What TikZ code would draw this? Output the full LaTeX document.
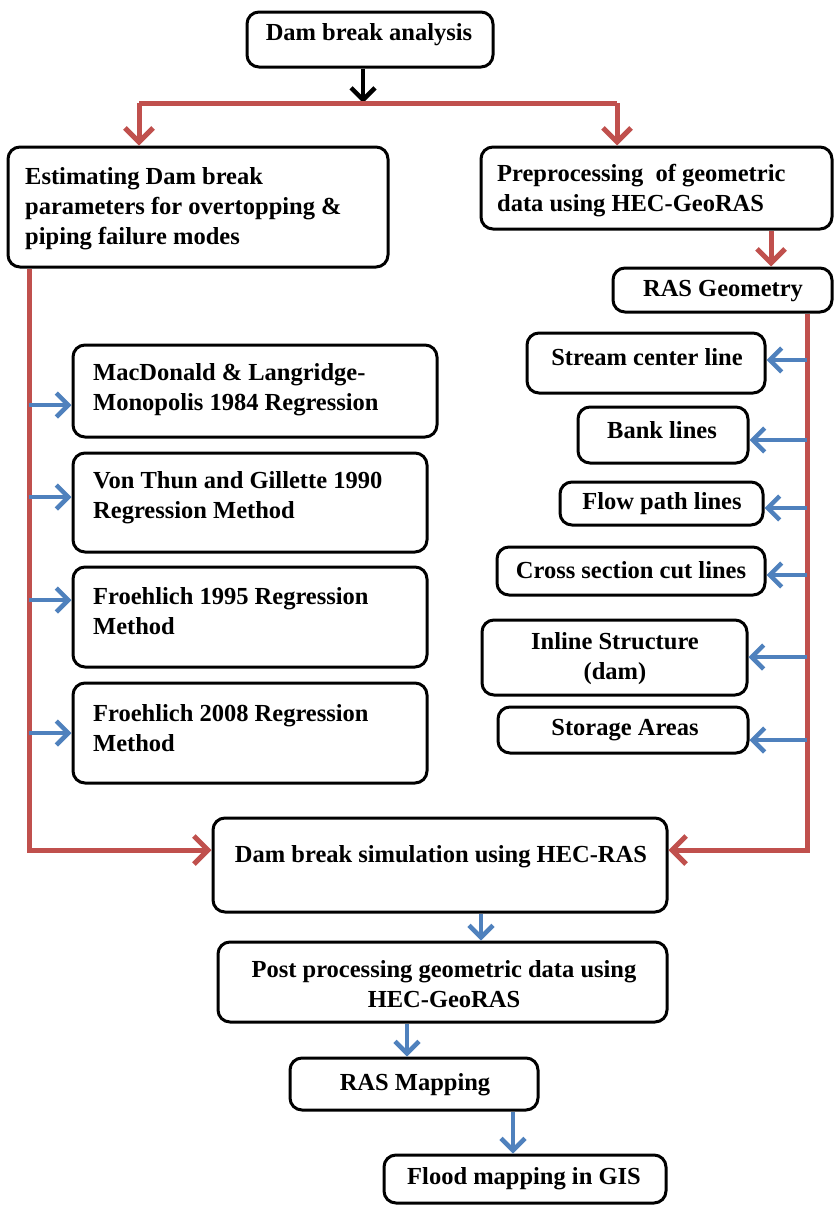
\documentclass[tikz,border=0pt]{standalone}
\usepackage{fontspec}
\setmainfont{Liberation Serif}
\usetikzlibrary{arrows.meta}
\definecolor{rd}{RGB}{192,80,77}
\definecolor{bl}{RGB}{79,129,189}
\begin{document}
\begin{tikzpicture}[x=1pt,y=-1pt,
  box/.style={draw=black, line width=3pt, rounded corners=12pt, inner sep=0pt, fill=white},
  txt/.style={font=\bfseries\fontsize{24.5}{30}\selectfont, inner sep=0pt},
  rline/.style={draw=rd, line width=5pt},
  rarrow/.style={draw=rd, line width=5pt, -{Straight Barb[length=14pt,width=28pt]}},
  barr/.style={draw=bl, line width=4.5pt, -{Straight Barb[length=12pt,width=24pt]}},
  karr/.style={draw=black, line width=4.5pt, -{Straight Barb[length=12pt,width=24pt]}}]
\useasboundingbox (0,0) rectangle (833,1205);
% boxes
\node[box, minimum width=246pt, minimum height=55pt] (dba) at (370,39.5) {};
\node[box, minimum width=380pt, minimum height=120pt] (est) at (198,207) {};
\node[box, minimum width=351pt, minimum height=82pt] (pre) at (656.5,188) {};
\node[box, minimum width=219pt, minimum height=44pt] (rasg) at (722.5,290) {};
\node[box, minimum width=364pt, minimum height=92pt] (mac) at (255,391) {};
\node[box, minimum width=354pt, minimum height=99pt] (von) at (250,502.5) {};
\node[box, minimum width=354pt, minimum height=100pt] (f95) at (250,617) {};
\node[box, minimum width=354pt, minimum height=100pt] (f08) at (250,733) {};
\node[box, minimum width=238pt, minimum height=60pt] (scl) at (646,363) {};
\node[box, minimum width=170pt, minimum height=56pt] (bank) at (663,435) {};
\node[box, minimum width=203pt, minimum height=43pt] (flow) at (661.5,503.5) {};
\node[box, minimum width=268pt, minimum height=48pt] (cross) at (631,571) {};
\node[box, minimum width=265pt, minimum height=75pt] (inl) at (614.5,657.5) {};
\node[box, minimum width=250pt, minimum height=46pt] (stor) at (623,730) {};
\node[box, minimum width=454pt, minimum height=94pt] (sim) at (440,865) {};
\node[box, minimum width=449pt, minimum height=80pt] (post) at (442.5,982) {};
\node[box, minimum width=248pt, minimum height=52pt] (rasm) at (414,1084) {};
\node[box, minimum width=282pt, minimum height=48pt] (flood) at (525,1179) {};
% texts
\node[txt] (dbat) at (369,35) {Dam break analysis};
\node[txt, align=left, anchor=west] (estt) at (25,209) {Estimating Dam break\\parameters for overtopping \&\\piping failure modes};
\node[txt, align=left, anchor=west] (pret) at (497,191) {Preprocessing\ \ of geometric\\data using HEC-GeoRAS};
\node[txt] (rasgt) at (723,291) {RAS Geometry};
\node[txt, align=left, anchor=west] (mact) at (93,390) {MacDonald \& Langridge-\\Monopolis 1984 Regression};
\node[txt, align=left, anchor=west] (vont) at (93,498) {Von Thun and Gillette 1990\\Regression Method};
\node[txt, align=left, anchor=west] (f95t) at (93,611) {Froehlich 1995 Regression\\Method};
\node[txt, align=left, anchor=west] (f08t) at (93,728) {Froehlich 2008 Regression\\Method};
\node[txt] (sclt) at (647,357) {Stream center line};
\node[txt] (bankt) at (662,430) {Bank lines};
\node[txt] (flowt) at (662,504) {Flow path lines};
\node[txt] (crosst) at (631,570) {Cross section cut lines};
\node[txt, align=center] (inlt) at (615,659) {Inline Structure\\(dam)};
\node[txt] (stort) at (625,730) {Storage Areas};
\node[txt] (simt) at (441,857) {Dam break simulation using HEC-RAS};
\node[txt, align=center] (postt) at (444,984) {Post processing geometric data using\\HEC-GeoRAS};
\node[txt] (rasmt) at (415,1085) {RAS Mapping};
\node[txt] (floodt) at (524,1179) {Flood mapping in GIS};
% connectors top
\coordinate (split) at (363,103);
\coordinate (hl) at (139,103);
\coordinate (hr) at (617,103);
\draw[karr] (dba.south -| split) -- (split);
\draw[rline] (hl) -- (hr);
\draw[rarrow] (hl) -- (hl |- est.north);
\draw[rarrow] (hr) -- (hr |- pre.north);
\coordinate (px) at (771,0);
\draw[rarrow] (pre.south -| px) -- (rasg.north -| px);
% trunks
\coordinate (ltr) at (29,850);
\coordinate (rtr) at (807,850);
\draw[rarrow] (est.south -| ltr) -- (ltr) -- (sim.west |- ltr);
\draw[rarrow] (rasg.south -| rtr) -- (rtr) -- (sim.east |- rtr);
% left blue arrows
\coordinate (l1) at (29,405);
\coordinate (l2) at (29,497);
\coordinate (l3) at (29,600);
\coordinate (l4) at (29,733);
\draw[barr] (l1) -- (l1 -| mac.west);
\draw[barr] (l2) -- (l2 -| von.west);
\draw[barr] (l3) -- (l3 -| f95.west);
\draw[barr] (l4) -- (l4 -| f08.west);
% right blue arrows
\coordinate (r1) at (807,360);
\coordinate (r2) at (807,440);
\coordinate (r3) at (807,508);
\coordinate (r4) at (807,575);
\coordinate (r5) at (807,657);
\coordinate (r6) at (807,740);
\draw[barr] (r1) -- (r1 -| scl.east);
\draw[barr] (r2) -- (r2 -| bank.east);
\draw[barr] (r3) -- (r3 -| flow.east);
\draw[barr] (r4) -- (r4 -| cross.east);
\draw[barr] (r5) -- (r5 -| inl.east);
\draw[barr] (r6) -- (r6 -| stor.east);
% bottom chain
\coordinate (b1) at (481,0);
\coordinate (b2) at (407,0);
\coordinate (b3) at (513,0);
\draw[barr] (sim.south -| b1) -- (post.north -| b1);
\draw[barr] (post.south -| b2) -- (rasm.north -| b2);
\draw[barr] (rasm.south -| b3) -- (flood.north -| b3);
\end{tikzpicture}
\end{document}
